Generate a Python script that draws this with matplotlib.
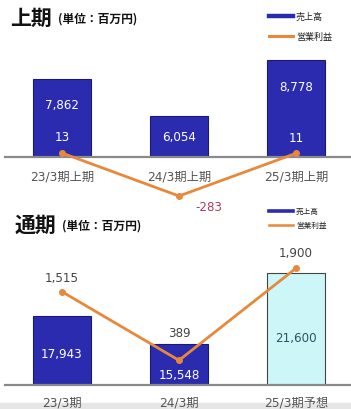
import matplotlib
matplotlib.use("Agg")
import matplotlib.pyplot as plt
import matplotlib.transforms as mtrans
from matplotlib.patches import Rectangle
import numpy as np

plt.rcParams['font.family'] = ['DejaVu Sans', 'Noto Sans CJK JP']

# ---- data ----
h_labels = ["23/3期上期", "24/3期上期", "25/3期上期"]
h_sales = [7862, 6054, 8778]
h_profit = [13, -283, 11]

f_labels = ["23/3期", "24/3期", "25/3期予想"]
f_sales = [17943, 15548, 21600]
f_profit = [1515, 389, 1900]

W, H = 351, 410
fig = plt.figure(figsize=(W / 100, H / 100), dpi=100)
fig.patch.set_facecolor('white')

BLUE = '#2b2bb0'
BLUE_EDGE = '#1a1a70'
CYAN = '#ccf6f8'
ORANGE = '#e8883a'
GRAY = '#555555'


def px_axes(left, right, top, bottom):
    return fig.add_axes([left / W, 1 - bottom / H, (right - left) / W, (bottom - top) / H])


def draw_chart(ax, labels, sales, profit, bar_ylim, line_ylim, colors, edges,
               text_colors, sales_offsets, profit_offsets, profit_colors, label_dy):
    x = np.arange(len(labels))
    ax.bar(x, sales, width=0.5, color=colors, edgecolor=edges, linewidth=0.8, zorder=2)
    ax.set_ylim(*bar_ylim)
    ax.set_xlim(-0.487, 2.47)
    for s in ['top', 'left', 'right']:
        ax.spines[s].set_visible(False)
    ax.spines['bottom'].set_color('#8a8a8a')
    ax.spines['bottom'].set_linewidth(1.6)
    ax.spines['bottom'].set_zorder(3)
    ax.set_yticks([])
    ax.set_xticks([])
    ax.patch.set_alpha(0)
    trans = mtrans.blended_transform_factory(ax.transData, ax.transAxes)
    for xi, lab in zip(x, labels):
        ax.annotate(lab, (xi, 0), xycoords=trans, xytext=(0, -label_dy),
                    textcoords='offset pixels', ha='center', va='center',
                    fontsize=8.8, color=GRAY)
    for xi, v, off, tc in zip(x, sales, sales_offsets, text_colors):
        ax.annotate(f"{v:,}", (xi, 0), xycoords=trans, xytext=(0, off),
                    textcoords='offset pixels', ha='center', va='center',
                    fontsize=8.6, color=tc, zorder=5)
    ax2 = ax.twinx()
    ax2.set_ylim(*line_ylim)
    ax2.axis('off')
    ax2.plot(x, profit, color=ORANGE, lw=2.0, marker='o', ms=4,
             clip_on=False, zorder=4)
    for xi, v, off, pc in zip(x, profit, profit_offsets, profit_colors):
        ax2.annotate(f"{v:,}", (xi, v), xytext=off, textcoords='offset pixels',
                     ha='center', va='center', fontsize=8.6, color=pc, zorder=5,
                     annotation_clip=False)
    return ax2


# ---- top chart (上期) ----
ax_top = px_axes(5, 351, 45, 158)
draw_chart(ax_top, h_labels, h_sales, h_profit, (4050, 9576), (-14.5, 763),
           [BLUE] * 3, [BLUE_EDGE] * 3, ['white'] * 3,
           [52, 20, 70], [(0, 17), (30, -10), (0, 16)],
           ['white', '#b03a55', 'white'], 19)

# ---- bottom chart (通期) ----
ax_bot = px_axes(5, 351, 245, 386)
draw_chart(ax_bot, f_labels, f_sales, f_profit, (12043, 24098), (-16, 2298),
           [BLUE, BLUE, CYAN], [BLUE_EDGE, BLUE_EDGE, '#444444'],
           ['white', 'white', '#2a5560'],
           [31, 10, 47], [(0, 14), (0, 28), (0, 16)],
           ['#444444', '#444444', '#444444'], 17)

# ---- titles ----
fj = ['Noto Sans CJK JP']
fig.text(10 / W, 1 - 18 / H, "上期", fontsize=15, fontweight='bold', family=fj,
         va='center', ha='left', color='#111111')
fig.text(58 / W, 1 - 19 / H, "(単位：百万円)", fontsize=8.5, fontweight='bold', family=fj,
         va='center', ha='left', color='#111111')
fig.text(15 / W, 1 - 225 / H, "通期", fontsize=15, fontweight='bold', family=fj,
         va='center', ha='left', color='#111111')
fig.text(62 / W, 1 - 226 / H, "(単位：百万円)", fontsize=8.5, fontweight='bold', family=fj,
         va='center', ha='left', color='#111111')

# ---- legends ----
def legend(y1, y2, fs, lw1, lw2):
    fig.add_artist(plt.Line2D([269 / W, 293 / W], [1 - y1 / H] * 2, color=BLUE, lw=lw1))
    fig.add_artist(plt.Line2D([269 / W, 293 / W], [1 - y2 / H] * 2, color=ORANGE, lw=lw2))
    fig.text(296 / W, 1 - y1 / H, "売上高", fontsize=fs, family=fj, va='center', color='#222222')
    fig.text(296 / W, 1 - y2 / H, "営業利益", fontsize=fs, family=fj, va='center', color='#222222')

legend(17, 37, 6.5, 3.2, 2.2)
legend(212, 226, 5.5, 2.6, 1.8)

# bottom gray band
fig.add_artist(Rectangle((0, 0), 1, 6 / H, transform=fig.transFigure,
                         color='#e6e6e6', zorder=0))

fig.savefig("out.png", dpi=100)
